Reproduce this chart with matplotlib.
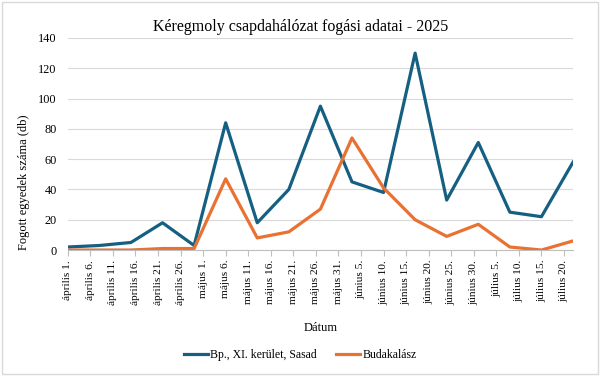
import datetime as dt
import matplotlib
matplotlib.use("Agg")
import matplotlib.pyplot as plt
import matplotlib.dates as mdates
from matplotlib.patches import Rectangle

plt.rcParams['font.family'] = ['Liberation Serif', 'DejaVu Serif']

# weekly trap counts
dates = [dt.date(2025, 4, 1) + dt.timedelta(days=7 * i) for i in range(17)]
sasad = [2, 3, 5, 18, 3, 84, 18, 40, 95, 45, 38, 130, 33, 71, 25, 22, 58]
budakalasz = [0, 0, 0, 1, 1, 47, 8, 12, 27, 74, 41, 20, 9, 17, 2, 0, 6]

tick_dates = [dt.date(2025, 4, 1) + dt.timedelta(days=5 * i) for i in range(23)]
tick_labels = ["április 1.", "április 6.", "április 11.", "április 16.", "április 21.",
               "április 26.", "május 1.", "május 6.", "május 11.", "május 16.",
               "május 21.", "május 26.", "május 31.", "június 5.", "június 10.",
               "június 15.", "június 20.", "június 25.", "június 30.", "július 5.",
               "július 10.", "július 15.", "július 20."]

fig = plt.figure(figsize=(6, 3.76), dpi=100)
ax = fig.add_axes([0.113, 0.335, 0.842, 0.564])

ax.plot(dates, sasad, color='#156082', lw=2.3, label='Bp., XI. kerület, Sasad')
ax.plot(dates, budakalasz, color='#E97132', lw=2.3, label='Budakalász')

ax.set_xlim(dates[0], dates[-1])
ax.set_ylim(0, 140)
ax.set_yticks(range(0, 141, 20))
ax.set_xticks([mdates.date2num(d) for d in tick_dates])
ax.set_xticklabels(tick_labels, rotation=90, fontsize=8.2)
ax.tick_params(axis='y', length=0, labelsize=8.8, pad=8)
ax.tick_params(axis='x', length=4, color='#bfbfbf', pad=3)
ax.grid(axis='y', color='#d9d9d9', lw=0.8)
ax.set_axisbelow(True)
for s in ['top', 'right', 'left']:
    ax.spines[s].set_visible(False)
ax.spines['bottom'].set_color('#bfbfbf')

ax.set_title('Kéregmoly csapdahálózat fogási adatai - 2025', fontsize=11.5, pad=5, x=0.46)
ax.set_ylabel('Fogott egyedek száma (db)', fontsize=9)
ax.yaxis.set_label_coords(-0.075, 0.32)
ax.set_xlabel('Dátum', fontsize=9, labelpad=12)

fig.legend(loc='center', bbox_to_anchor=(0.5, 0.055), ncol=2, frameon=False,
           fontsize=8.5, handlelength=2.1, handletextpad=0.15, columnspacing=1.6)

fig.patches.append(Rectangle((0.003, 0.005), 0.994, 0.99, transform=fig.transFigure,
                             fill=False, edgecolor='#d9d9d9', lw=1))

fig.savefig('out.png', dpi=100)
